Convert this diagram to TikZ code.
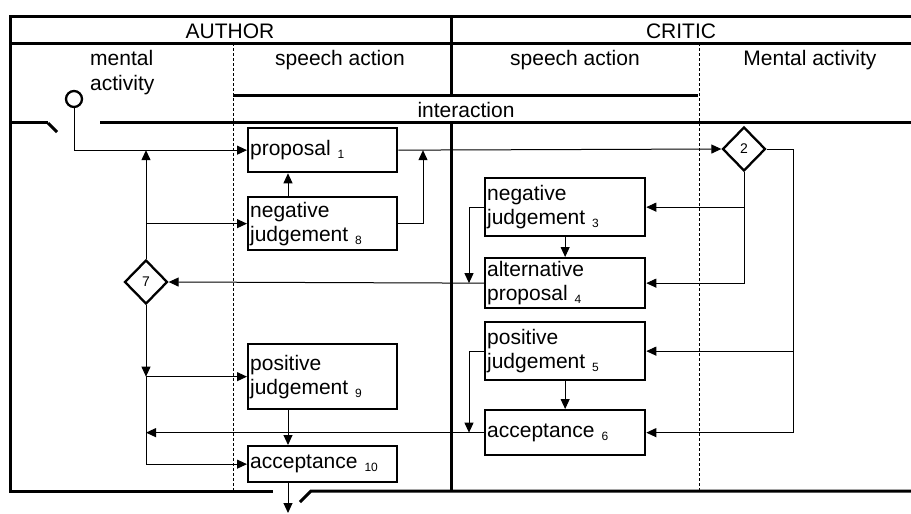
\documentclass[tikz,border=0pt]{standalone}
\usepackage{fontspec}
\setmainfont{Liberation Sans}
\usepackage{tikz}
\usetikzlibrary{arrows.meta}
\usetikzlibrary{shapes.geometric}
\usetikzlibrary{positioning}
\newcommand{\actno}[1]{\raisebox{-3pt}{\fontsize{12}{13}\selectfont #1}}
\tikzset{
	frameline/.style={line width=3pt},
	laneline/.style={line width=1pt, dash pattern=on 3pt off 2pt},
	flow/.style={line width=1pt, -{Triangle[length=10pt,width=9pt]}},
	actbox/.style={draw, line width=2.3pt, anchor=north west, inner sep=2pt, align=left, font=\fontsize{21}{24}\selectfont},
	authact/.style={actbox, text width=145pt},
	criticact/.style={actbox, text width=156pt},
	choice/.style={draw, diamond, line width=2.3pt, inner sep=0pt, minimum width=43pt, minimum height=44pt, font=\fontsize{14}{15}\selectfont},
	head/.style={font=\fontsize{21}{25}\selectfont, anchor=base},
}

\begin{document}
\begin{tikzpicture}[x=1pt, y=-1pt]
	\useasboundingbox (0, 0) rectangle (911, 514);
	
	% frame and lanes
	\draw[frameline] (911, 16) -- (10, 16) -- (10, 491) -- (273, 491);
	\draw[frameline] (10, 43) -- (911, 43);
	\draw[frameline] (451, 16) -- (451, 95);
	\draw[frameline] (233, 95) -- (698, 95);
	\draw[frameline] (10, 122) -- (48, 122);
	\draw[frameline] (48, 123) -- (57, 132);
	\draw[frameline] (100, 122) -- (911, 122);
	\draw[frameline] (451, 122) -- (451, 491);
	\draw[frameline] (300, 502) -- (311, 491) -- (911, 491);
	\draw[laneline] (233, 43) -- (233, 491);
	\draw[laneline] (699, 43) -- (699, 491);
	
	\node[head] (author) at (230, 38) {AUTHOR};
	\node[head] (critic) at (681, 38) {CRITIC};
	\node[head, anchor=north west, inner sep=0pt, align=left] (amind) at (90, 50) {mental\\activity};
	\node[head] (aspeech) at (340, 65) {speech action};
	\node[head] (cspeech) at (575, 65) {speech action};
	\node[head] (cmind) at (810, 65) {Mental activity};
	\node[head] (inter) at (466, 117) {interaction};
	
	% speech actions
	\node[draw, circle, line width=2.3pt, minimum size=16pt, inner sep=0pt] (start) at (74, 99) {};
	\node[authact, minimum height=44pt] (prop) at (247, 127) {proposal \actno{1}};
	\node[authact, minimum height=53pt] (neg8) at (247, 196) {negative\\judgement \actno{8}};
	\node[authact, minimum height=65pt] (pos9) at (247, 343) {positive\\judgement \actno{9}};
	\node[authact, minimum height=36pt] (acc10) at (247, 445) {acceptance \actno{10}};
	\node[criticact, minimum height=58pt] (neg3) at (484, 177) {negative\\judgement \actno{3}};
	\node[criticact, minimum height=50pt] (alt) at (484, 257) {alternative\\proposal \actno{4}};
	\node[criticact, minimum height=58pt] (pos5) at (484, 321) {positive\\judgement \actno{5}};
	\node[criticact, minimum height=45pt] (acc6) at (484, 409) {acceptance \actno{6}};
	\node[choice] (crit) at (744, 149) {2};
	\node[choice] (auth) at (146, 282) {7};
	
	\coordinate (ax) at (288, 0);
	\coordinate (nx) at (423, 0);
	\coordinate (cx) at (469, 0);
	\coordinate (rx) at (793, 0);
	\coordinate (exit) at (288, 513);
	
	% connectors
	\draw[flow] (start.south) |- (prop.west);
	\draw[flow] (prop.east) -- (crit.west);
	\draw[flow] (crit.south) |- (alt.east);
	\draw[flow] (crit.south |- neg3.east) -- (neg3.east);
	\draw[flow] (crit.east) -| (rx |- acc6.east) -- (acc6.east);
	\draw[flow] (rx |- pos5.east) -- (pos5.east);
	\draw[flow] (neg3.south) -- (alt.north);
	\draw[flow] (pos5.south) -- (acc6.north);
	\draw[flow] (neg3.west) -| (cx |- alt.west);
	\draw[flow] (pos5.west) -| (cx |- acc6.west);
	\draw[flow] (alt.west) -- (auth.east);
	\draw[flow] (acc6.west) -- (auth |- acc6.west);
	\draw[flow] (auth.north) -- (auth |- prop.west);
	\draw[flow] (auth |- neg8.west) -- (neg8.west);
	\draw[flow] (auth.south) -- (auth |- pos9.west);
	\draw[flow] (auth |- pos9.west) -- (pos9.west);
	\draw[flow] (auth |- pos9.west) |- (acc10.west);
	\draw[flow] (neg8.north -| ax) -- (prop.south -| ax);
	\draw[flow] (neg8.east) -| (nx |- prop.east);
	\draw[flow] (pos9.south -| ax) -- (acc10.north -| ax);
	\draw[flow] (acc10.south -| ax) -- (exit);
	
\end{tikzpicture}
\end{document}
